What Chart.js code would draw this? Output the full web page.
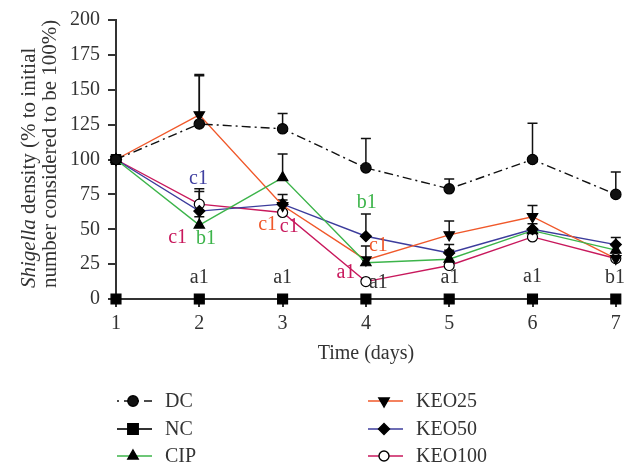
<!DOCTYPE html>
<html>
<head>
<meta charset="utf-8">
<script src="https://cdn.jsdelivr.net/npm/chart.js@4/dist/chart.umd.min.js"></script>
<style>
  html, body { margin: 0; padding: 0; background: #fff; }
  #wrap { width: 624px; height: 465px; position: relative; }
</style>
</head>
<body>
<div id="wrap"><canvas id="c"></canvas></div>
<script>
const days = [1, 2, 3, 4, 5, 6, 7];
const yTicks = [0, 25, 50, 75, 100, 125, 150, 175, 200];

const dc = [100, 125.5, 122, 94, 79, 100, 75];
const dcErr = [null, 160, 133, 115, 86, 126, 91];
const nc = [0, 0, 0, 0, 0, 0, 0];
const cip = [100, 53, 87, 26, 28.5, 49, 35];
const cipErr = [null, 59, 104, null, 35, null, null];
const keo25 = [100, 132, 67, 28, 46, 59, 29];
const keo25Err = [null, 161, 71, 38, 56, 67, null];
const keo50 = [100, 63, 68, 45, 33, 50, 39];
const keo50Err = [null, 77, 75, 61, 39, 54, 44];
const keo100 = [100, 68, 62, 12.5, 24, 44.5, 29];
const keo100Err = [null, 79, null, null, null, null, null];

// significance letters: [text, day, value, colour]
const letters = [
  ['c1', 1.99, 86, '#4040a0'],
  ['c1', 1.74, 44, '#c8185c'],
  ['b1', 2.08, 43.5, '#3cb44a'],
  ['a1', 2.0, 15, '#333'],
  ['c1', 2.82, 53.5, '#f0582a'],
  ['c1', 3.08, 51.5, '#c8185c'],
  ['a1', 3.0, 15, '#333'],
  ['b1', 4.01, 69, '#3cb44a'],
  ['c1', 4.15, 38.5, '#f0582a'],
  ['a1', 3.76, 18.5, '#c8185c'],
  ['a1', 4.15, 11.5, '#333'],
  ['a1', 5.01, 15, '#333'],
  ['a1', 6.0, 15.7, '#333'],
  ['b1', 6.99, 15, '#333']
];

const FONT = '"Liberation Serif", "DejaVu Serif", serif';
const FS = 20;
const TXT = '#333';
const DASHDOT = [9, 4, 2, 4];

const pts = arr => arr.map((v, i) => ({ x: days[i], y: v }));

const series = [
  { label: 'DC', data: dc, err: dcErr, color: '#111', style: 'circle', fill: '#111', dash: DASHDOT, r: 5.2 },
  { label: 'NC', data: nc, err: null, color: '#333', style: 'rect', fill: '#000', width: 2, r: 7 },
  { label: 'CIP', data: cip, err: cipErr, color: '#3cb44a', style: 'triangle', fill: '#000', r: 6 },
  { label: 'KEO25', data: keo25, err: keo25Err, color: '#f0582a', style: 'triangle', rot: 180, fill: '#000', r: 6 },
  { label: 'KEO50', data: keo50, err: keo50Err, color: '#3c3c9c', style: 'rectRot', fill: '#000', r: 5.5 },
  { label: 'KEO100', data: keo100, err: keo100Err, color: '#c8185c', style: 'circle', fill: '#fff', r: 5 }
];

const datasets = series.map(s => ({
  label: s.label,
  data: pts(s.data),
  err: s.err,
  borderColor: s.color,
  borderWidth: s.width || 1.4,
  borderDash: s.dash || [],
  pointStyle: s.style,
  rotation: s.rot || 0,
  pointRadius: s.r,
  pointBackgroundColor: s.fill,
  pointBorderColor: '#000',
  pointBorderWidth: 1.2,
  tension: 0
}));
// NC marker at day 1 start value
datasets.push({
  label: 'NCstart', data: [{ x: 1, y: 100 }], showLine: false,
  pointStyle: 'rect', pointRadius: 7, pointBackgroundColor: '#000', pointBorderColor: '#000'
});

const errorBars = {
  id: 'errorBars',
  beforeDatasetsDraw(chart) {
    const { ctx, scales: { x, y } } = chart;
    ctx.save();
    ctx.strokeStyle = '#111';
    ctx.lineWidth = 1.5;
    chart.data.datasets.forEach(ds => {
      if (!ds.err) return;
      ds.err.forEach((e, i) => {
        if (e == null) return;
        const px = x.getPixelForValue(ds.data[i].x);
        const p0 = y.getPixelForValue(ds.data[i].y);
        const p1 = y.getPixelForValue(e);
        ctx.beginPath();
        ctx.moveTo(px, p0); ctx.lineTo(px, p1);
        ctx.moveTo(px - 5, p1); ctx.lineTo(px + 5, p1);
        ctx.stroke();
      });
    });
    ctx.restore();
  }
};

const annotations = {
  id: 'annotations',
  afterDatasetsDraw(chart) {
    const { ctx, scales: { x, y } } = chart;
    ctx.save();
    ctx.font = FS + 'px ' + FONT;
    ctx.textAlign = 'center';
    ctx.textBaseline = 'middle';
    letters.forEach(([t, dx, dy, col]) => {
      ctx.fillStyle = col;
      ctx.fillText(t, x.getPixelForValue(dx), y.getPixelForValue(dy));
    });
    ctx.restore();
  }
};

function drawMarker(ctx, s, cx, cy) {
  Chart.helpers.drawPoint(ctx, {
    pointStyle: s.style, radius: s.r, rotation: s.rot || 0, borderWidth: 1.2
  }, cx, cy);
}

const legendAndTitle = {
  id: 'legendAndTitle',
  afterDraw(chart) {
    const { ctx } = chart;
    ctx.save();
    // y axis title, two rotated lines starting at the same baseline, "Shigella" in italics
    const y0 = 288;
    const tf = 21;
    ctx.fillStyle = TXT;
    ctx.textBaseline = 'middle';
    ctx.textAlign = 'left';
    ctx.save();
    ctx.translate(29, y0);
    ctx.rotate(-Math.PI / 2);
    ctx.font = 'italic ' + tf + 'px ' + FONT;
    ctx.fillText('Shigella', 0, 0);
    const wa = ctx.measureText('Shigella').width;
    ctx.font = tf + 'px ' + FONT;
    ctx.fillText(' density (% to initial', wa, 0);
    ctx.restore();
    ctx.save();
    ctx.translate(50, y0);
    ctx.rotate(-Math.PI / 2);
    ctx.font = tf + 'px ' + FONT;
    ctx.fillText('number considered to be 100%)', 0, 0);
    ctx.restore();

    // legend, two columns
    const rows = [401, 429, 456];
    const cols = [117, 368];
    series.forEach((s, i) => {
      const x0 = cols[Math.floor(i / 3)];
      const yy = rows[i % 3];
      ctx.strokeStyle = s.color;
      ctx.lineWidth = s.width || 1.4;
      ctx.setLineDash(s.dash ? [2, 5, 9, 4] : []);
      ctx.beginPath();
      ctx.moveTo(x0, yy); ctx.lineTo(x0 + 35, yy);
      ctx.stroke();
      ctx.setLineDash([]);
      ctx.fillStyle = s.fill;
      ctx.strokeStyle = '#000';
      drawMarker(ctx, s, x0 + 16, yy);
      ctx.fillStyle = TXT;
      ctx.font = FS + 'px ' + FONT;
      ctx.textAlign = 'left';
      ctx.fillText(s.label, x0 + 48, yy + 1);
    });
    ctx.restore();
  }
};

new Chart(document.getElementById('c'), {
  type: 'line',
  data: { datasets },
  plugins: [errorBars, annotations, legendAndTitle],
  options: {
    responsive: true,
    maintainAspectRatio: false,
    animation: false,
    clip: false,
    layout: { padding: { top: 20, right: 3, bottom: 95, left: 0 } },
    plugins: { legend: { display: false }, tooltip: { enabled: false } },
    scales: {
      x: {
        type: 'linear', min: 1, max: 7,
        afterBuildTicks: s => { s.ticks = days.map(v => ({ value: v })); },
        afterFit: s => { s.height = 71; s.paddingLeft = 0; s.paddingRight = 0; },
        grid: { drawOnChartArea: false, tickLength: 8, color: '#333', lineWidth: 2 },
        border: { color: '#333', width: 2 },
        ticks: { color: TXT, font: { family: FONT, size: FS }, padding: 5 },
        title: { display: true, text: 'Time (days)', color: TXT, font: { family: FONT, size: FS }, padding: { top: 10 } }
      },
      y: {
        min: 0, max: 200,
        afterBuildTicks: s => { s.ticks = yTicks.map(v => ({ value: v })); },
        afterFit: s => { s.width = 116; s.paddingTop = 0; s.paddingBottom = 0; },
        grid: { drawOnChartArea: false, tickLength: 8, color: '#333', lineWidth: 2 },
        border: { color: '#333', width: 2 },
        ticks: { color: TXT, font: { family: FONT, size: FS }, padding: 8 }
      }
    }
  }
});
</script>
</body>
</html>
